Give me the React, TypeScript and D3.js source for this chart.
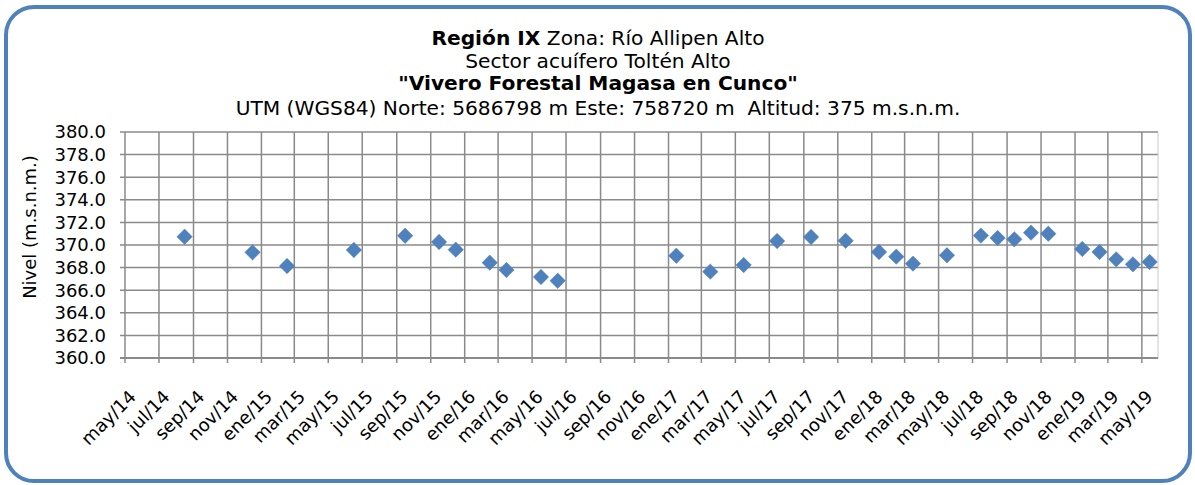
import React from "react";
import * as d3 from "d3";

// Observation dates and water levels (m.s.n.m.)
const obsDates = [
  "2014-08-16", "2014-12-16", "2015-02-16", "2015-06-16", "2015-09-16",
  "2015-11-16", "2015-12-16", "2016-02-15", "2016-03-16", "2016-05-17",
  "2016-06-16", "2017-01-15", "2017-03-17", "2017-05-16", "2017-07-15",
  "2017-09-14", "2017-11-15", "2018-01-14", "2018-02-14", "2018-03-16",
  "2018-05-16", "2018-07-16", "2018-08-15", "2018-09-14", "2018-10-14",
  "2018-11-14", "2019-01-14", "2019-02-14", "2019-03-16", "2019-04-15",
  "2019-05-15",
];
const levels = [
  370.73, 369.35, 368.14, 369.56, 370.82,
  370.27, 369.59, 368.44, 367.79, 367.17,
  366.84, 369.05, 367.64, 368.23, 370.35,
  370.71, 370.38, 369.38, 368.97, 368.35,
  369.09, 370.83, 370.62, 370.5, 371.09,
  371.0, 369.65, 369.38, 368.73, 368.29,
  368.5,
];
const xTickLabels = [
  "may/14", "jul/14", "sep/14", "nov/14", "ene/15", "mar/15", "may/15", "jul/15",
  "sep/15", "nov/15", "ene/16", "mar/16", "may/16", "jul/16", "sep/16", "nov/16",
  "ene/17", "mar/17", "may/17", "jul/17", "sep/17", "nov/17", "ene/18", "mar/18",
  "may/18", "jul/18", "sep/18", "nov/18", "ene/19", "mar/19", "may/19",
];
const yTicks = [360, 362, 364, 366, 368, 370, 372, 374, 376, 378, 380];

const W = 1195;
const H = 485;
const FONT = "'DejaVu Sans', Verdana, sans-serif";
const GRID = "#8a8a8a";
const BLUE = "#4F81BD";

export default function App() {
  const parse = d3.timeParse("%Y-%m-%d");
  const x = d3
    .scaleTime()
    .domain([new Date(2014, 4, 1), new Date(2019, 4, 30)])
    .range([125, 1158]);
  const y = d3.scaleLinear().domain([360, 380]).range([358, 132]);
  const tickDates = d3.timeMonth
    .every(2)!
    .range(new Date(2014, 4, 1), new Date(2019, 4, 2));
  const diamond = d3.symbol().type(d3.symbolSquare).size(118)();
  const [x0, x1] = x.range();
  const [yb, yt] = y.range();

  return (
    <svg
      width={W}
      height={H}
      style={{ position: "absolute", left: 0, top: 0 }}
      fontFamily={FONT}
    >
      <rect x={0} y={0} width={W} height={H} fill="#fff" />
      <rect
        x={6}
        y={7}
        width={1184}
        height={474}
        rx={28}
        ry={28}
        fill="#fff"
        stroke={BLUE}
        strokeWidth={4}
      />
      {/* Title */}
      <g textAnchor="middle" fontSize={20.2} fill="#000">
        <text x={598} y={45}>
          <tspan fontWeight="bold">Región IX</tspan> Zona: Río Allipen Alto
        </text>
        <text x={598} y={68}>
          Sector acuífero Toltén Alto
        </text>
        <text x={598} y={90} fontWeight="bold">
          "Vivero Forestal Magasa en Cunco"
        </text>
        <text x={598} y={115} xmlSpace="preserve">
          UTM (WGS84) Norte: 5686798 m Este: 758720 m  Altitud: 375 m.s.n.m.
        </text>
      </g>
      {/* Horizontal gridlines */}
      {yTicks.map((t) => (
        <g key={"y" + t}>
          <line x1={x0 - 5} x2={x1} y1={y(t)} y2={y(t)} stroke={GRID} strokeWidth={1.5} />
          <text x={106} y={y(t)} dy="0.36em" textAnchor="end" fontSize={18}>
            {t.toFixed(1)}
          </text>
        </g>
      ))}
      {/* Vertical gridlines */}
      {tickDates.map((d, i) => (
        <g key={"x" + i}>
          <line
            x1={x(d)}
            x2={x(d)}
            y1={yt}
            y2={yb + 5}
            stroke={GRID}
            strokeWidth={1.5}
          />
          <text
            transform={`translate(${x(d) + 12},${yb + 40}) rotate(-45)`}
            textAnchor="end"
            fontSize={18}
          >
            {xTickLabels[i]}
          </text>
        </g>
      ))}
      <line x1={x1} x2={x1} y1={yt} y2={yb} stroke="#c8c8c8" strokeWidth={1} />
      <line x1={x0 - 5} x2={x1} y1={yb} y2={yb} stroke={GRID} strokeWidth={2} />
      {/* Y axis title */}
      <text
        transform={`translate(36,227) rotate(-90)`}
        textAnchor="middle"
        fontSize={18}
      >
        Nivel (m.s.n.m.)
      </text>
      {/* Markers */}
      {obsDates.map((ds, i) => (
        <path
          key={"p" + i}
          d={diamond!}
          transform={`translate(${x(parse(ds)!)},${y(levels[i])}) rotate(45)`}
          fill={BLUE}
          stroke="#4a7ebb"
          strokeWidth={0.5}
        />
      ))}
    </svg>
  );
}
